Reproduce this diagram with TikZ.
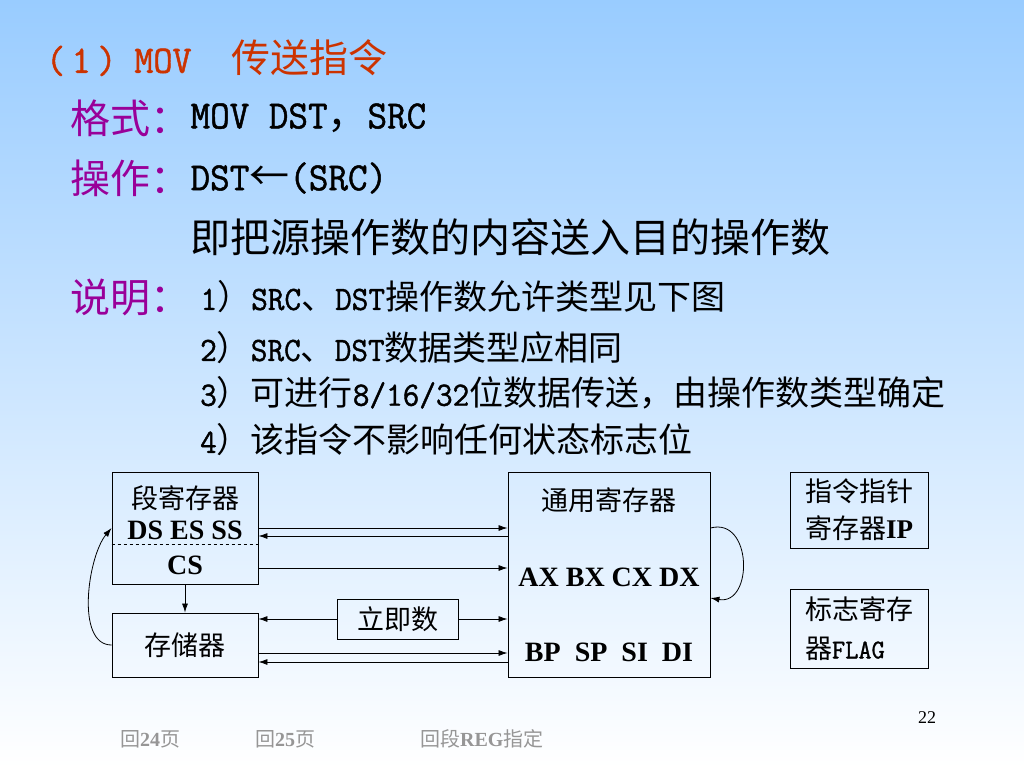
\documentclass[tikz,border=0pt]{standalone}
\usepackage{fontspec}
\setmainfont{Liberation Serif}
\newfontfamily\cjk{Noto Sans CJK SC}
\newfontfamily\narrow[FakeStretch=0.95, FakeBold=1.2]{Latin Modern Mono}
\usetikzlibrary{positioning}
\usetikzlibrary{arrows.meta}
\definecolor{bgblue}{RGB}{153,204,255}
\definecolor{titlered}{RGB}{204,51,0}
\definecolor{labpurple}{RGB}{153,0,153}
\definecolor{linkgray}{RGB}{150,150,150}
\newcommand{\asc}[1]{{\narrow #1}}
\newcommand{\bsr}[1]{{\rmfamily\bfseries #1}}
\tikzstyle{head} = [anchor=west, inner sep=0pt, text=labpurple, font=\cjk\fontsize{40}{46}\selectfont]
\tikzstyle{body} = [anchor=west, inner sep=0pt, font=\cjk\fontsize{40}{46}\selectfont]
\tikzstyle{item} = [anchor=west, inner sep=0pt, font=\cjk\fontsize{34}{40}\selectfont]
\tikzstyle{box} = [rectangle, draw=black, line width=0.9pt, inner sep=0pt]
\tikzstyle{lbl} = [inner sep=0pt, font=\cjk\fontsize{27}{32}\selectfont]
\tikzstyle{reg} = [inner sep=0pt, font=\bfseries\fontsize{28}{32}\selectfont]
\tikzstyle{link} = [anchor=west, inner sep=0pt, text=linkgray, font=\cjk\fontsize{20}{24}\selectfont]
\tikzstyle{arrow} = [line width=0.8pt,->,>={Latex[length=9pt,width=6pt]}]

\begin{document}
\begin{tikzpicture}[x=1pt,y=-1pt]

        % Background
        \shade[top color=bgblue, bottom color=white] (0,0) rectangle (1024,768);

        % Title and text lines
        \node[body, text=titlered, font=\cjk\fontsize{39}{44}\selectfont] (title) at (46,58) {\asc{(\,1\,)}\hspace{18pt}\asc{MOV}\hspace{40pt}传送指令};
        \node[head] (fmt) at (70,118) {格式：};
        \node[body, right=0pt of fmt] (fmtbody) {\asc{MOV DST}，\asc{SRC}};
        \node[head] (op) at (70,178) {操作：};
        \node[body, right=0pt of op] (opbody) {\asc{DST}←\asc{(SRC)}};
        \node[body] (meaning) at (190,237) {即把源操作数的内容送入目的操作数};
        \node[head] (note) at (70,297) {说明：};
        \node[item, right=10pt of note] (note1) {\asc{1}）\asc{SRC}、\asc{DST}操作数允许类型见下图};
        \node[item] (note2) at (200,348) {\asc{2}）\asc{SRC}、\asc{DST}数据类型应相同};
        \node[item] (note3) at (200,393) {\asc{3}）可进行\asc{8/16/32}位数据传送，由操作数类型确定};
        \node[item] (note4) at (200,440) {\asc{4}）该指令不影响任何状态标志位};

        % Segment registers box
        \node[box, minimum width=146pt, minimum height=112pt] (seg) at (185,528) {};
        \node[lbl] (segname) at (185,498) {段寄存器};
        \node[reg] (segdes) at (185,530) {DS ES SS};
        \node[reg] (segcs) at (185,565) {CS};
        \coordinate (split) at (0,544);
        \draw[dashed, line width=0.6pt] (seg.west |- split) -- (seg.east |- split);

        % Memory and immediate
        \node[box, lbl, minimum width=146pt, minimum height=64pt] (mem) at (185,645) {存储器};
        \node[box, lbl, minimum width=121pt, minimum height=40pt] (imm) at (398,619) {立即数};

        % General registers box
        \node[box, minimum width=202pt, minimum height=205pt] (gen) at (609,574.5) {};
        \node[lbl] (genname) at (609,500) {通用寄存器};
        \node[reg] (genx) at (609,577) {AX BX CX DX};
        \node[reg] (genp) at (609,652) {BP\ \ SP\ \ SI\ \ DI};

        % IP and FLAG boxes on the right
        \node[box, lbl, align=center, minimum width=138pt, minimum height=76pt] (ip) at (859,510) {指令指针\\[5pt]寄存器\bsr{IP}};
        \node[box, lbl, align=left, minimum width=138pt, minimum height=79pt] (flag) at (859,628.5) {标志寄存\\[7pt]器\asc{FLAG}\hspace{22pt}};

        % Lanes
        \coordinate (a1) at (0,528);
        \coordinate (a2) at (0,536);
        \coordinate (a3) at (0,568);
        \coordinate (a5) at (0,653);
        \coordinate (a6) at (0,662);
        \coordinate (r2) at (0,598);

        % Connections
        \draw[arrow] (seg.east |- a1) -- (gen.west |- a1);
        \draw[arrow] (gen.west |- a2) -- (seg.east |- a2);
        \draw[arrow] (seg.east |- a3) -- (gen.west |- a3);
        \draw[arrow] (seg.south) -- (mem.north);
        \draw[arrow] (imm.west) -- (mem.east |- imm.west);
        \draw[arrow] (imm.east) -- (gen.west |- imm.east);
        \draw[arrow] (mem.west) to[out=180, in=230, looseness=0.8] (seg.west |- a1);
        \draw[arrow] (mem.east |- a5) -- (gen.west |- a5);
        \draw[arrow] (gen.west |- a6) -- (mem.east |- a6);
        \draw[arrow] (gen.east |- a1) to[out=15, in=-10, looseness=1.6] (gen.east |- r2);

        % Footer
        \node[link] (back24) at (120,739) {回\bsr{24}页};
        \node[link] (back25) at (255,739) {回\bsr{25}页};
        \node[link] (backreg) at (420,739) {回段\bsr{REG}指定};
        \node[inner sep=0pt, font=\fontsize{18}{20}\selectfont] (page) at (927,718) {22};

    \end{tikzpicture}
\end{document}
